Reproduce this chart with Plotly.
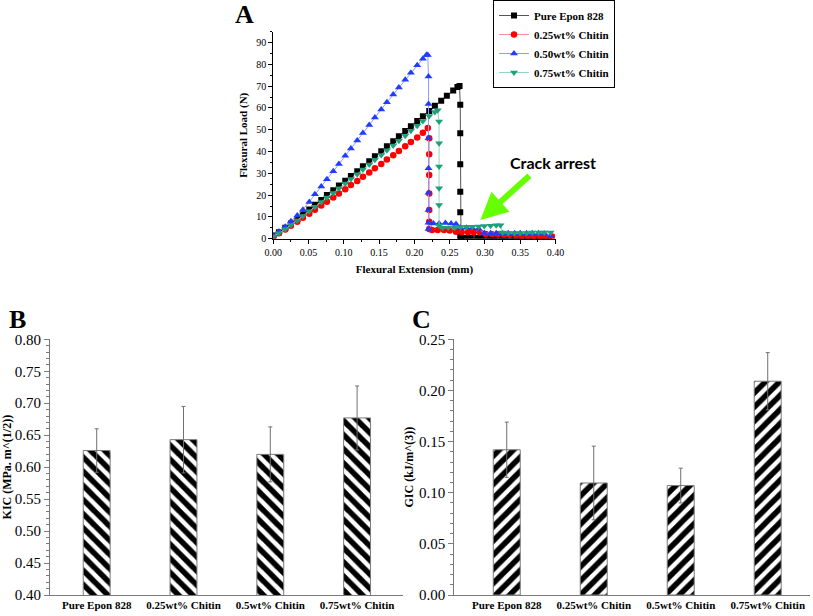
import plotly.graph_objects as go

# ---------------- PANEL A: load / extension curves ----------------
pure_x = [0.000, 0.008, 0.017, 0.025, 0.034, 0.042, 0.051, 0.059, 0.068, 0.076,
          0.085, 0.093, 0.102, 0.110, 0.119, 0.127, 0.136, 0.144, 0.153, 0.161,
          0.170, 0.178, 0.187, 0.195, 0.204, 0.212, 0.221, 0.229, 0.238, 0.246,
          0.255, 0.261, 0.264, 0.265, 0.265, 0.265, 0.265, 0.265, 0.265, 0.265,
          0.266, 0.272, 0.280, 0.289, 0.297, 0.306, 0.314, 0.323, 0.331, 0.340,
          0.348, 0.357, 0.365, 0.374, 0.382, 0.391]
pure_y = [1.5, 3.0, 5.0, 7.0, 9.0, 11.2, 13.4, 15.6, 17.8, 20.0,
          22.2, 24.4, 26.6, 28.8, 31.0, 33.2, 35.5, 37.8, 40.1, 42.4,
          44.7, 47.0, 49.4, 51.6, 54.0, 56.2, 58.6, 61.0, 63.3, 65.6,
          68.0, 69.6, 70.1, 61.5, 48.4, 34.2, 21.6, 12.1, 4.6, 0.9,
          0.3, 0.3, 0.3, 0.3, 0.3, 0.3, 0.3, 0.3, 0.3, 0.3,
          0.3, 0.3, 0.3, 0.3, 0.3, 0.3]

c25_x = [0.000, 0.008, 0.017, 0.025, 0.034, 0.042, 0.051, 0.059, 0.068, 0.076,
         0.085, 0.093, 0.102, 0.110, 0.119, 0.127, 0.136, 0.144, 0.153, 0.161,
         0.170, 0.178, 0.187, 0.195, 0.204, 0.212, 0.219, 0.221, 0.221, 0.221,
         0.221, 0.221, 0.221, 0.221, 0.225, 0.233, 0.242, 0.250, 0.259, 0.267,
         0.276, 0.284, 0.293, 0.301, 0.310, 0.318, 0.327, 0.335, 0.344, 0.352,
         0.361, 0.369, 0.378, 0.386, 0.395]
c25_y = [0.8, 2.5, 4.2, 6.0, 7.8, 9.6, 11.4, 13.3, 15.2, 17.0,
         18.9, 20.8, 22.7, 24.6, 26.5, 28.4, 30.4, 32.3, 34.3, 36.3,
         38.3, 40.3, 42.4, 44.4, 46.5, 48.6, 50.8, 46.1, 38.7, 29.2,
         20.8, 13.2, 7.8, 4.5, 4.0, 4.0, 4.0, 3.8, 3.2, 3.0,
         3.0, 3.0, 2.8, 2.2, 2.0, 2.0, 1.8, 1.8, 1.6, 1.4,
         1.2, 1.2, 1.1, 1.0, 1.0]

c50_x = [0.000, 0.008, 0.017, 0.025, 0.034, 0.042, 0.051, 0.059, 0.068, 0.076,
         0.085, 0.093, 0.102, 0.110, 0.119, 0.127, 0.136, 0.144, 0.153, 0.161,
         0.170, 0.178, 0.187, 0.195, 0.204, 0.212, 0.217, 0.219, 0.220, 0.220,
         0.220, 0.220, 0.220, 0.220, 0.220, 0.220, 0.227, 0.235, 0.244, 0.252,
         0.259, 0.265, 0.274, 0.282, 0.291, 0.299, 0.308, 0.316, 0.325, 0.333,
         0.342, 0.350, 0.359, 0.367, 0.376, 0.384, 0.393]
c50_y = [1.5, 3.3, 5.5, 8.0, 10.6, 13.3, 16.9, 20.4, 23.9, 27.3,
         30.9, 34.3, 38.1, 41.4, 45.1, 48.5, 52.2, 55.6, 59.3, 62.6,
         66.2, 69.4, 73.0, 76.2, 79.6, 82.6, 84.3, 84.3, 74.4, 61.8,
         46.1, 32.3, 21.1, 13.2, 7.3, 4.5, 7.0, 7.0, 7.2, 7.0,
         6.8, 5.0, 5.0, 4.8, 4.6, 2.6, 2.5, 2.5, 2.5, 2.5,
         2.5, 2.5, 2.5, 2.5, 2.5, 2.4, 1.2]

c75_x = [0.000, 0.008, 0.017, 0.025, 0.034, 0.042, 0.051, 0.059, 0.068, 0.076,
         0.085, 0.093, 0.102, 0.110, 0.119, 0.127, 0.136, 0.144, 0.153, 0.161,
         0.170, 0.178, 0.187, 0.195, 0.204, 0.212, 0.221, 0.229, 0.233, 0.235,
         0.235, 0.235, 0.235, 0.235, 0.235, 0.240, 0.248, 0.257, 0.265, 0.274,
         0.282, 0.291, 0.299, 0.308, 0.316, 0.322, 0.325, 0.333, 0.342, 0.350,
         0.359, 0.367, 0.376, 0.384, 0.393]
c75_y = [1.0, 2.5, 4.3, 6.3, 8.3, 10.4, 12.6, 14.7, 16.8, 18.9,
         21.0, 23.2, 25.3, 27.4, 29.6, 31.8, 34.0, 36.2, 38.4, 40.6,
         42.8, 45.0, 47.3, 49.5, 51.8, 54.0, 56.3, 58.1, 58.9, 53.8,
         43.8, 33.1, 23.1, 15.5, 6.0, 5.0, 5.0, 5.0, 5.2, 5.5,
         5.5, 5.6, 5.8, 6.0, 6.2, 6.2, 2.8, 2.6, 2.6, 2.6,
         2.6, 2.8, 2.8, 2.8, 2.8]

# ---------------- PANELS B, C: bar data ----------------
categories = ["Pure Epon 828", "0.25wt% Chitin", "0.5wt% Chitin", "0.75wt% Chitin"]
kic = [0.626, 0.643, 0.620, 0.677]
kic_err = [0.034, 0.052, 0.043, 0.050]
gic = [0.142, 0.1095, 0.107, 0.209]
gic_err = [0.027, 0.036, 0.017, 0.028]

SERIF = "Liberation Serif"
W, H = 813, 616


def px(x):
    return x / W


def py(y):
    return 1 - y / H


fig = go.Figure()

# ---------------- PANEL A TRACES ----------------
curves = [
    ("Pure Epon 828", pure_x, pure_y, "square", "#000000", "#555555", 6),
    ("0.25wt% Chitin", c25_x, c25_y, "circle", "#ff0000", "#ff8c8c", 6.5),
    ("0.50wt% Chitin", c50_x, c50_y, "triangle-up", "#1f3cff", "#8c9cff", 7),
    ("0.75wt% Chitin", c75_x, c75_y, "triangle-down", "#1fa07a", "#8fd8bd", 7),
]
for name, xs, ys, sym, mcol, lcol, msize in curves:
    fig.add_trace(go.Scatter(
        x=xs, y=ys, name=name, mode="lines+markers",
        line=dict(color=lcol, width=1),
        marker=dict(symbol=sym, color=mcol, size=msize, line=dict(width=0)),
        xaxis="x", yaxis="y"
    ))

# ---------------- PANEL B / C BARS ----------------
for vals, errs, shape, xa, ya in [(kic, kic_err, "\\", "x2", "y2"),
                                  (gic, gic_err, "/", "x3", "y3")]:
    fig.add_trace(go.Bar(
        x=categories, y=vals, width=0.31, showlegend=False,
        marker=dict(color="white", line=dict(color="#7a7a7a", width=1),
                    pattern=dict(shape=shape, fgcolor="#000000", bgcolor="white",
                                 fgopacity=1, size=10, solidity=0.55)),
        error_y=dict(type="data", array=errs, color="#707070", thickness=1, width=2),
        xaxis=xa, yaxis=ya
    ))

axis_a = dict(showline=True, linecolor="black", linewidth=1, ticks="outside",
              ticklen=4, tickcolor="black", showgrid=False, zeroline=False,
              automargin=False,
              tickfont=dict(family=SERIF, size=10, color="black"))
bar_y = dict(showline=True, linecolor="#7a7a7a", linewidth=1, ticks="outside",
             ticklen=5, tickcolor="#7a7a7a", showgrid=False, zeroline=False,
             tickformat=".2f", automargin=False,
             tickfont=dict(family=SERIF, size=15, color="black"))
bar_x = dict(showline=True, linecolor="#7a7a7a", linewidth=1, ticks="",
             showgrid=False, zeroline=False, automargin=False,
             tickfont=dict(family=SERIF, size=11, color="black", weight="bold"))

fig.update_layout(
    width=W, height=H,
    margin=dict(l=0, r=0, t=0, b=0, autoexpand=False),
    paper_bgcolor="white", plot_bgcolor="white",
    bargap=0.69,
    xaxis=dict(axis_a, domain=[px(273.3), px(555.5)], range=[0, 0.40], anchor="y",
               tickvals=[0, 0.05, 0.10, 0.15, 0.20, 0.25, 0.30, 0.35, 0.40],
               tickformat=".2f",
               minor=dict(dtick=0.025, ticks="outside", ticklen=2, tickcolor="black"),
               title=dict(text="Flexural Extension (mm)", standoff=8,
                          font=dict(family=SERIF, size=11, color="black", weight="bold"))),
    yaxis=dict(axis_a, domain=[py(238.7), py(31.7)], range=[0, 95], anchor="x",
               tickvals=[0, 10, 20, 30, 40, 50, 60, 70, 80, 90],
               minor=dict(dtick=5, ticks="outside", ticklen=2, tickcolor="black"),
               title=dict(text="Flexural Load (N)", standoff=6,
                          font=dict(family=SERIF, size=11, color="black", weight="bold"))),
    xaxis2=dict(bar_x, domain=[px(50), px(403)], range=[-0.538, 3.529], anchor="y2"),
    yaxis2=dict(bar_y, domain=[py(595), py(339.3)], range=[0.40, 0.80], anchor="x2",
                dtick=0.05,
                minor=dict(dtick=0.01, ticks="outside", ticklen=3, tickcolor="#7a7a7a"),
                title=dict(text="KIC (MPa. m^(1/2))", standoff=2,
                           font=dict(family=SERIF, size=12, color="black", weight="bold"))),
    xaxis3=dict(bar_x, domain=[px(454.3), px(810)], range=[-0.603, 3.486], anchor="y3"),
    yaxis3=dict(bar_y, domain=[py(595), py(339.3)], range=[0, 0.25], anchor="x3",
                dtick=0.05,
                minor=dict(dtick=0.01, ticks="outside", ticklen=3, tickcolor="#7a7a7a"),
                title=dict(text="GIC (kJ/m^(3))", standoff=2,
                           font=dict(family=SERIF, size=12, color="black", weight="bold"))),
    legend=dict(x=px(493), y=1, xanchor="left", yanchor="top",
                bordercolor="black", borderwidth=1, bgcolor="white",
                tracegroupgap=0, itemwidth=30,
                font=dict(family=SERIF, size=11, color="black", weight="bold")),
    showlegend=True,
)

letter_font = dict(family=SERIF, size=26, color="black", weight="bold")
annotations = [
    dict(text="A", x=px(244), y=py(15), font=letter_font),
    dict(text="B", x=px(17), y=py(320), font=letter_font),
    dict(text="C", x=px(422), y=py(320), font=letter_font),
    dict(text="Crack arrest", x=px(553), y=py(162),
         font=dict(family="Lato", size=16, color="black", weight="bold")),
]
for a in annotations:
    a.update(xref="paper", yref="paper", showarrow=False,
             xanchor="center", yanchor="middle")
# green arrow pointing at the arrested cracks
annotations.append(dict(text=" ", x=0.2936, y=8.6, xref="x", yref="y", showarrow=True,
                        ax=52, ay=-47, arrowcolor="#66ff00", arrowwidth=6, arrowhead=2,
                        arrowsize=0.9, standoff=0))
fig.update_layout(annotations=annotations)

# page default margin would shift the figure by 8px
fig.write_html("out.html", config={"displayModeBar": False},
               post_script="document.body.style.margin='0';"
                           "document.body.style.overflow='hidden';")
